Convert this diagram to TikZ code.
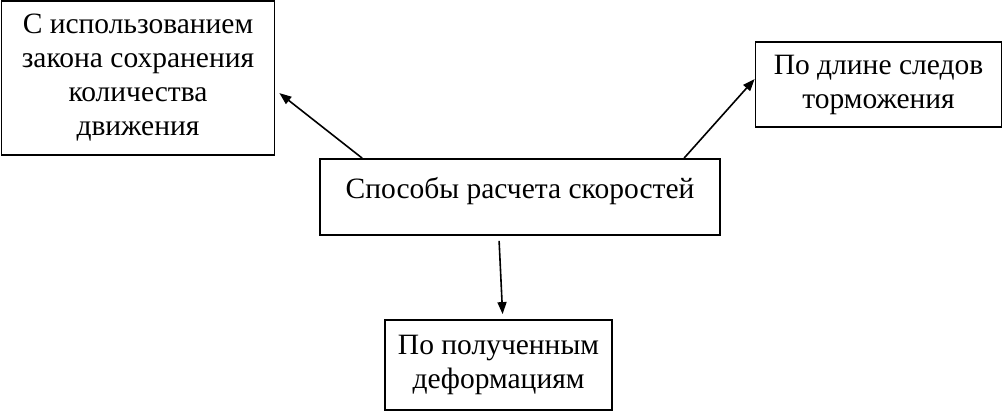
\documentclass[tikz,border=0pt]{standalone}
\usepackage{fontspec}
\setmainfont{Liberation Serif}
\usetikzlibrary{arrows.meta,calc}
\begin{document}
\begin{tikzpicture}[x=1pt,y=1pt,
  box/.style={draw,line width=1.8pt,inner sep=0pt,align=center,font=\fontsize{29.5}{34}\selectfont},
  arr/.style={line width=1.6pt,-{Triangle[length=12pt,width=9pt]}}]
\useasboundingbox (0,0) rectangle (1003,412);
\node[box,minimum width=273,minimum height=154] (l) at (138,334) {С использованием\\закона сохранения\\количества\\движения};
\node[box,minimum width=246,minimum height=85] (r) at (878.5,327.5) {По длине следов\\торможения};
\node[box,minimum width=400,text height=40,text depth=36] (c) at (520,215) {Способы расчета скоростей};
\node[box,minimum width=227,minimum height=90] (b) at (498.5,47) {По полученным\\деформациям};
\coordinate (cl) at ($(c.north west)+(43,0)$);
\coordinate (cr) at ($(c.north west)+(365,0)$);
\coordinate (cb) at ($(c.south west)+(180,-5)$);
\coordinate (lt) at ($(l.north east)+(4,-93)$);
\coordinate (rt) at ($(r.north west)+(0,-38)$);
\coordinate (bt) at ($(b.north west)+(118.5,5)$);
\draw[arr] (cl) -- (lt);
\draw[arr] (cr) -- (rt);
\draw[arr] (cb) -- (bt);
\end{tikzpicture}
\end{document}
